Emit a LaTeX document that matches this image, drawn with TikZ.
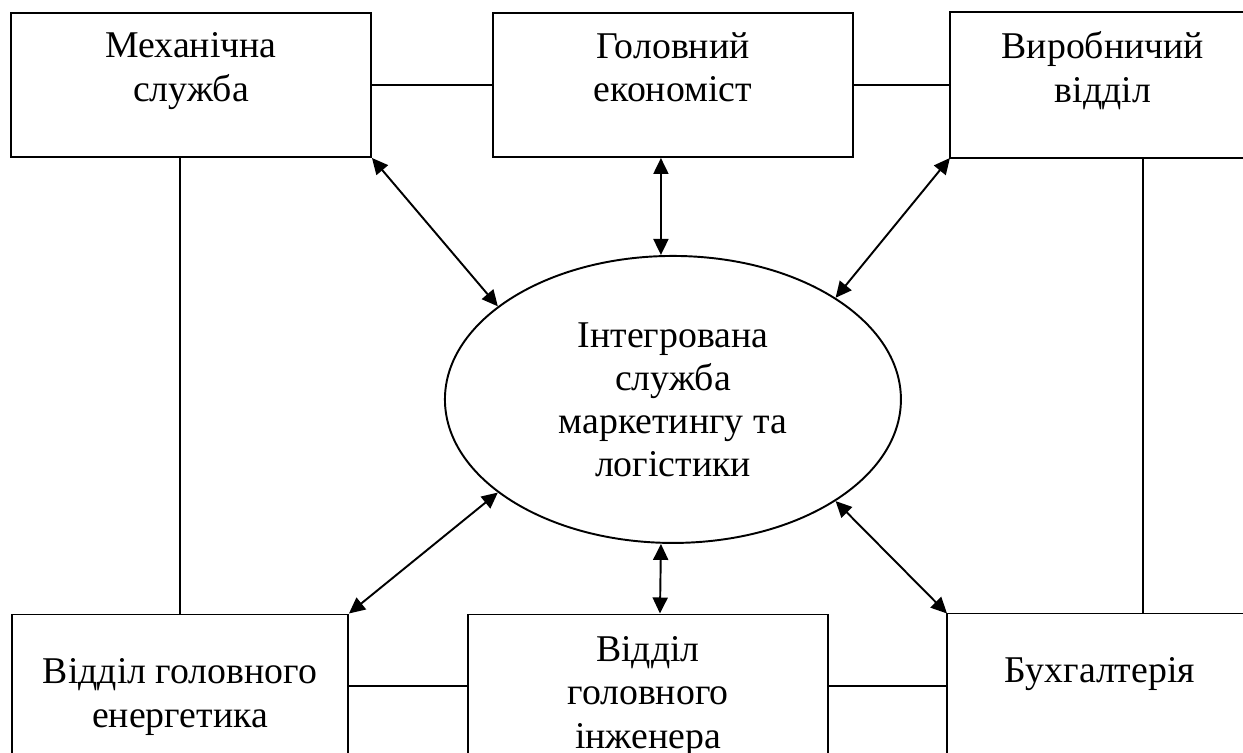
\documentclass[tikz,border=0pt]{standalone}
\usepackage{fontspec}
\setmainfont{Liberation Serif}
\usetikzlibrary{
  shapes,
  positioning,
  arrows.meta
}
\tikzset{%
  node distance=2.4cm, % gap between two boxes of a row
  every picture/.style={line width=1.1pt, >={Triangle[length=3.2mm, width=3mm]}}, % lines and arrow heads
  every node/.style={font=\fontsize{21.5}{24.5}\selectfont} % text size of the scheme
}

\begin{document}
\begin{tikzpicture}
  \tikzset{box/.style={draw, align=center, inner sep=2pt, minimum height=2.88cm, text depth=7.2mm},
    openbox/.style={box, draw=none}} % right side lies off the page
  \useasboundingbox (0,0) rectangle (24.86,-15.04);
  \clip (0,0) rectangle (24.86,-15.04);
  % top row
  \node [box, minimum width=7.2cm] (mech) at (3.82,-1.7) {Механічна\\служба};
  \node [box, minimum width=7.2cm, right=of mech] (econ) {Головний\\економіст};
  \node [openbox, minimum width=6.08cm, right=1.92cm of econ] (prod) {Виробничий\\відділ};
  \draw (prod.north east) -- (prod.north west) -- (prod.south west) -- (prod.south east);
  % centre
  \node [ellipse, draw, align=center, minimum width=9.12cm, minimum height=5.74cm,
    below=1.94cm of econ] (integr) {Інтегрована\\служба\\маркетингу та\\логістики};
  % bottom row
  \node [box, anchor=north west, minimum width=6.72cm, minimum height=3.32cm, text depth=1.8mm]
    (enrg) at (0.22,-12.27) {Відділ головного\\енергетика};
  \node [box, anchor=north west, minimum width=7.2cm, minimum height=3.36cm, text depth=2.4mm]
    (eng) at (9.34,-12.27) {Відділ\\головного\\інженера};
  \node [openbox, anchor=north west, minimum width=6.08cm, text depth=6.4mm]
    (acct) at (18.94,-12.27) {Бухгалтерія};
  \draw (acct.south west) -- (acct.north west) -- (acct.north east);
  % plain links
  \draw (mech) -- (econ);
  \draw (econ) -- (prod);
  \draw (enrg.north |- mech.south) -- (enrg.north);
  \draw ([xshift=3.86cm]prod.south west) -- ([xshift=3.86cm]prod.south west |- acct.north);
  \draw ([yshift=-1.45cm]enrg.north east) -- ([yshift=-1.45cm]eng.north west);
  \draw ([yshift=-1.45cm]eng.north east) -- ([yshift=-1.45cm]acct.north west);
  % links to the centre
  \draw [<->] (mech.south east) to (integr.152);
  \draw [<->] ([xshift=-2.4mm]econ.south) to ([xshift=-2.4mm]integr.north);
  \draw [<->] (prod.south west) to (integr.32);
  \draw [<->] (enrg.north east) to (integr.208);
  \draw [<->] ([xshift=-2.4mm]integr.south) to ([xshift=2.4mm]eng.north);
  \draw [<->] (acct.north west) to (integr.328);
\end{tikzpicture}
\end{document}
